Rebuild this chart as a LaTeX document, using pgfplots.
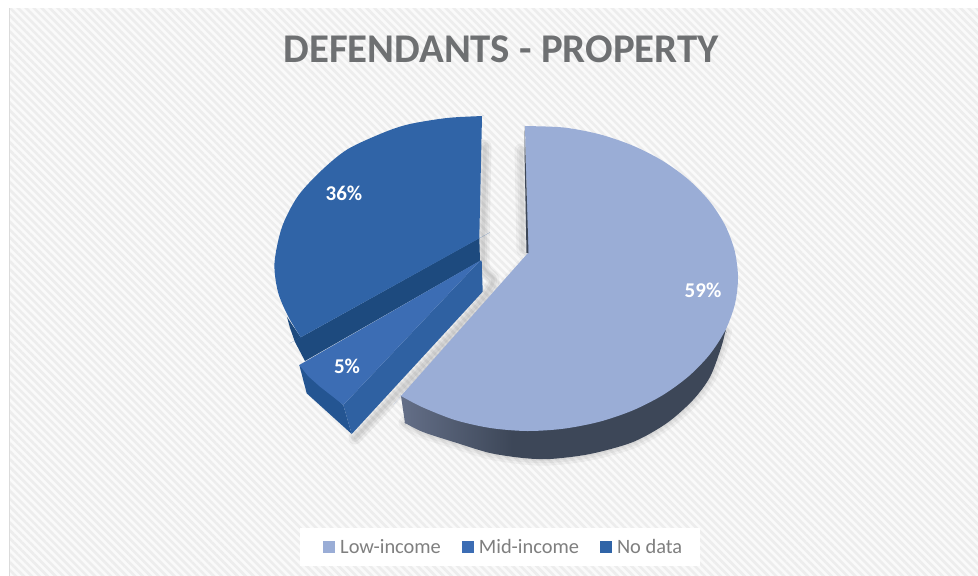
\documentclass[border=0pt]{standalone}
\usepackage{fontspec}
\setmainfont{Carlito}
\usepackage{pgfplots}
\pgfplotsset{compat=1.18}
\usepackage{pgfplotstable}
\usetikzlibrary{patterns.meta}

\definecolor{lowinc}{HTML}{9AADD6}
\definecolor{midinc}{HTML}{3C6DB4}
\definecolor{nodata}{HTML}{3064A7}
\definecolor{nodataside}{HTML}{1D4A7E}
\definecolor{midface}{HTML}{2F61A2}
\definecolor{midside}{HTML}{245592}
\definecolor{lowdark}{HTML}{3D4758}
\definecolor{lowlight}{HTML}{646F88}
\definecolor{titlegray}{HTML}{6E7072}
\definecolor{labelgray}{HTML}{7F7F7F}
\definecolor{stripe}{HTML}{EDEDED}

\pgfdeclarehorizontalshading{lowwall}{100bp}{color(0bp)=(lowlight); color(25bp)=(lowlight); color(42bp)=(lowdark); color(100bp)=(lowdark)}

% outlines, in pixels; corners are repeated so smooth keeps them sharp
\pgfplotstableread{
x y
525 126
525 126
525 126
563.6 127.5
599.2 134.2
632.5 145.5
662.6 160.8
688.6 179.7
709.7 201.5
725.3 225.7
734.8 251.4
738 278
734.8 304.6
725.3 330.3
709.7 354.5
688.6 376.3
662.6 395.2
632.5 410.5
599.2 421.8
563.6 428.7
527 431
490.4 428
455 420
422 407
401 396
401 396
401 396
528 253
528 253
528 253
}\lowtop
\pgfplotstableread{
x y
401 396
401 396
401 396
405 423
405 423
405 423
423 432
457 443
490 453
523 458
550 459
590 454
633 442
667 423
693 400
710 377
721 348
725.5 331
725.5 331
725.5 331
700 300
600 300
}\lowside
\pgfplotstableread{
x y
405 423
423 432
457 443
490 453
523 458
550 459
590 454
633 442
667 423
693 400
710 377
721 348
725.5 331
}\lowedge
\pgfplotstableread{
x y
482 116
482 116
482 116
447 118
410 124
385 132
348 149
322 170
298 196
282 227
274.5 263
278 292
288 316
300.7 337.3
300.7 337.3
300.7 337.3
479.3 238.3
479.3 238.3
479.3 238.3
}\nodatatop
\pgfplotstableread{
x y
479.3 238
480 261
305 361
295 342
290 328
287 317
300.7 337.3
}\nodataside
\pgfplotstableread{
x y
480 260.7
299.3 365
308 376
320 386.7
332 396
343.3 405
}\midtop
\pgfplotstableread{
x y
299.3 365
306.7 393.3
351.7 434
343.3 405
}\midouter
\pgfplotstableread{
x y
481.7 260.7
482.7 291.7
351.7 434
343.3 405
480 260.7
}\midinner
\pgfplotstableread{
x y
524.6 126
524.6 155
526.5 253
528.5 253
}\lowinner
\pgfplotstableread{
x y
485 146
483 262
486 294
355 438
}\gapshadow
\pgfplotstableread{
x y
521 150
523 250
}\innershadow
\pgfplotstableread{
x y
531 256
408 393
}\diagshadow

\newcommand{\softshadow}[2][]{%
  \addplot[draw=black,opacity=0.02,line width=13pt,line join=round,line cap=round,smooth,forget plot,#1] table {#2};
  \addplot[draw=black,opacity=0.03,line width=8pt,line join=round,line cap=round,smooth,forget plot,#1] table {#2};
  \addplot[draw=black,opacity=0.045,line width=3.5pt,line join=round,line cap=round,smooth,forget plot,#1] table {#2};
}

\begin{document}
\begin{tikzpicture}
\begin{axis}[
    scale only axis,
    width=978pt,
    height=576pt,
    xmin=0,xmax=978,
    ymin=0,ymax=576,
    y dir=reverse,
    hide axis,
    clip=true,
    no markers,
    legend style={
        at={(axis cs:300,547)},anchor=west,
        fill=white,draw=none,
        legend columns=3,
        font=\fontsize{20.4}{24}\selectfont\color{labelgray},
        /tikz/every even column/.append style={column sep=12pt},
        inner xsep=16pt,inner ysep=9pt,
    },
    legend cell align=left,
    legend image code/.code={\fill[#1] (0pt,-6pt) rectangle (12pt,6pt);\path[fill=none,draw=none] (-7pt,0pt) -- (15pt,0pt);},
]
% chart background
\addplot[fill=white,draw=none,forget plot] coordinates {(0,0) (978,0) (978,576) (0,576)};
\addplot[draw=none,forget plot,preaction={fill=white!98!black},
    pattern={Lines[angle=-45,distance=5.6pt,line width=2.6pt]},pattern color=stripe]
    coordinates {(9,8) (978,8) (978,576) (9,576)};
\addplot[draw=black!14,line width=1pt,forget plot] coordinates {(9.5,8) (9.5,576)};

% shadows
\softshadow[opacity=0.05]{\gapshadow}
\softshadow[opacity=0.04]{\innershadow}
\softshadow[opacity=0.025]{\diagshadow}
\softshadow[opacity=0.04]{\lowedge}

% low-income slice
\addplot[shade,shading=lowwall,draw=none,smooth,forget plot] table {\lowside};
\addplot[fill=lowinc,draw=none,smooth,forget plot] table {\lowtop};
\addplot[fill=lowdark,draw=none,forget plot] table {\lowinner};

% no data slice
\addplot[fill=nodataside,draw=none,forget plot] table {\nodataside};
\addplot[fill=nodata,draw=none,smooth,forget plot] table {\nodatatop};

% mid-income slice
\addplot[fill=midside,draw=none,forget plot] table {\midouter};
\addplot[fill=midface,draw=none,forget plot] table {\midinner};
\addplot[fill=midinc,draw=none,forget plot] table {\midtop};

\addlegendimage{draw=none,fill=lowinc}
\addlegendentry{Low-income}
\addlegendimage{draw=none,fill=midinc}
\addlegendentry{Mid-income}
\addlegendimage{draw=none,fill=nodata}
\addlegendentry{No data}

\node[font=\fontsize{40.8}{48}\selectfont\bfseries,text=titlegray] at (axis cs:501,49) {DEFENDANTS - PROPERTY};
\node[font=\fontsize{21}{25}\selectfont\bfseries,text=white] at (axis cs:703,290) {59\%};
\node[font=\fontsize{21}{25}\selectfont\bfseries,text=white] at (axis cs:344,193) {36\%};
\node[font=\fontsize{21}{25}\selectfont\bfseries,text=white] at (axis cs:347,366) {5\%};
\end{axis}
\end{tikzpicture}
\end{document}
